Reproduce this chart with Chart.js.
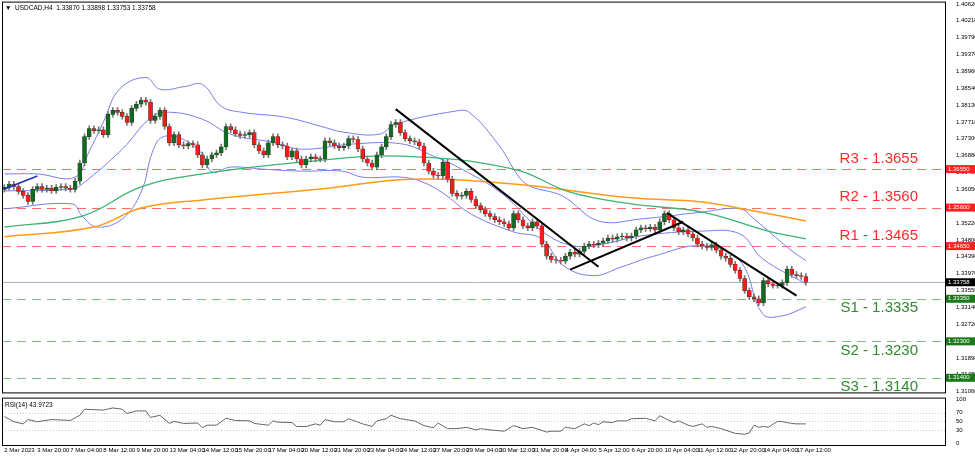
<!DOCTYPE html>
<html>
<head>
<meta charset="utf-8">
<script src="https://cdn.jsdelivr.net/npm/chart.js@4"></script>
<style>
  body { margin: 0; background: #fff; }
  #wrap { position: relative; width: 975px; height: 456px; overflow: hidden; }
  canvas { position: absolute; left: 0; }
</style>
</head>
<body>
<div id="wrap">
  <canvas id="mainChart" width="975" height="404" style="top:-5px"></canvas>
  <canvas id="rsiChart" width="975" height="65" style="top:391px"></canvas>
</div>
<script>
// H4 closes, 2 Mar 2023 .. 17 Apr 12:00
const closes = [
  1.3610,1.3618,1.3612,1.3600,1.3590,1.3575,1.3605,1.3612,1.3605,1.3608,
  1.3602,1.3610,1.3612,1.3608,1.3605,1.3625,1.3670,1.3735,1.3755,1.3750,
  1.3752,1.3740,1.3790,1.3800,1.3795,1.3785,1.3770,1.3805,1.3815,1.3825,
  1.3820,1.3775,1.3785,1.3800,1.3760,1.3720,1.3740,1.3715,1.3712,1.3718,
  1.3715,1.3690,1.3665,1.3680,1.3690,1.3695,1.3710,1.3760,1.3752,1.3742,
  1.3738,1.3740,1.3745,1.3715,1.3700,1.3690,1.3720,1.3735,1.3715,1.3712,
  1.3685,1.3700,1.3680,1.3665,1.3680,1.3685,1.3680,1.3680,1.3725,1.3720,
  1.3712,1.3708,1.3712,1.3730,1.3728,1.3705,1.3680,1.3670,1.3660,1.3690,
  1.3710,1.3735,1.3765,1.3770,1.3745,1.3730,1.3725,1.3722,1.3712,1.3670,
  1.3650,1.3640,1.3638,1.3672,1.3630,1.3595,1.3588,1.3590,1.3600,1.3580,
  1.3565,1.3555,1.3545,1.3538,1.3530,1.3525,1.3520,1.3510,1.3545,1.3530,
  1.3515,1.3510,1.3525,1.3515,1.3470,1.3440,1.3432,1.3430,1.3428,1.3440,
  1.3450,1.3445,1.3452,1.3465,1.3470,1.3468,1.3472,1.3478,1.3485,1.3482,
  1.3488,1.3490,1.3485,1.3490,1.3505,1.3510,1.3508,1.3512,1.3505,1.3525,
  1.3545,1.3530,1.3510,1.3500,1.3505,1.3495,1.3485,1.3470,1.3465,1.3462,
  1.3468,1.3455,1.3440,1.3435,1.3420,1.3405,1.3385,1.3355,1.3340,1.3335,
  1.3325,1.3380,1.3372,1.3368,1.3368,1.3375,1.3408,1.3395,1.3392,1.3390,
  1.33758
];
const firstOpen = 1.3605;

const timeLabels = ['2 Mar 2023','3 Mar 20:00','7 Mar 04:00','8 Mar 12:00','9 Mar 20:00',
  '13 Mar 04:00','14 Mar 12:00','15 Mar 20:00','17 Mar 04:00','20 Mar 12:00','21 Mar 20:00',
  '23 Mar 04:00','24 Mar 12:00','27 Mar 20:00','29 Mar 04:00','30 Mar 12:00','31 Mar 20:00',
  '4 Apr 04:00','5 Apr 12:00','6 Apr 20:00','10 Apr 04:00','11 Apr 12:00','12 Apr 20:00',
  '14 Apr 04:00','17 Apr 12:00'];

const priceTicks = [1.40620,1.40210,1.39790,1.39370,1.38960,1.38540,1.38130,1.37710,1.37300,
  1.36880,1.36460,1.36050,1.35630,1.35220,1.34800,1.34390,1.33970,1.33550,1.33140,1.32720,
  1.32300,1.31890,1.31480,1.31060];

// indicator lines, [candle index, price]
const ma100 = [[0,1.3512],[16.5,1.3539],[29,1.3611],[42,1.3643],[63,1.3672],[84,1.3687],
  [108,1.3655],[120,1.3598],[133,1.3569],[148,1.3549],[162,1.3502],[170,1.3483]];
const ma200 = [[0,1.3488],[19,1.3512],[29,1.3559],[42,1.3579],[67,1.3606],[86.5,1.3630],
  [108,1.3618],[133,1.3584],[148,1.3574],[156.5,1.3557],[170,1.3527]];
const bbUpper = [[0,1.3643],[7,1.3643],[15,1.3635],[18,1.3699],[21,1.3771],[24.4,1.3852],
  [30,1.3881],[33,1.3852],[38.4,1.3859],[42,1.3864],[46,1.3810],[50.5,1.3795],[59.6,1.3783],
  [67,1.3761],[72,1.3746],[79.5,1.3741],[83,1.3766],[95.6,1.3798],[98.6,1.3795],[105,1.3712],
  [109,1.3638],[111.4,1.3613],[118.3,1.3589],[126,1.3527],[135,1.3532],[148,1.3549],
  [156,1.3557],[159,1.3532],[166.5,1.3458],[170,1.3429]];
const bbMid = [[0,1.3601],[14.4,1.3606],[16.5,1.3618],[25,1.3704],[31.4,1.3785],[35.6,1.3795],
  [42,1.3778],[48,1.3741],[57,1.3721],[63,1.3704],[74,1.3717],[84.4,1.3717],[91,1.3687],
  [97,1.3655],[105.6,1.3594],[114,1.3502],[120.5,1.3466],[126.8,1.3470],[135,1.3490],
  [148,1.3502],[156,1.3495],[160.8,1.3434],[170,1.3372]];
const bbLower = [[0,1.3557],[14.4,1.3569],[16.5,1.3539],[19.7,1.3512],[25,1.3532],[29,1.3598],
  [31.4,1.3697],[33.5,1.3734],[37.8,1.3729],[42,1.3692],[44,1.3648],[48,1.3660],[54.7,1.3655],
  [63,1.3650],[71.7,1.3650],[76,1.3635],[84.4,1.3635],[88.7,1.3623],[93,1.3596],[99,1.3544],
  [108,1.3500],[114,1.3483],[118.3,1.3419],[124.7,1.3392],[131,1.3414],[137.4,1.3439],
  [148,1.3466],[156,1.3429],[160.8,1.3298],[165,1.3293],[170,1.3315]];

const trendLines = [
  [[0,1.3606],[7,1.3638]],
  [[83,1.3803],[126,1.3414]],
  [[120,1.3407],[144,1.3525]],
  [[140.5,1.3547],[168,1.3343]]
];

const levelNames = ['R3','R2','R1','S1','S2','S3'];
const levelValues = [1.3655,1.3560,1.3465,1.3335,1.3230,1.3140];
const lastPrice = 1.33758;

const rsiIdx = [0,2,4,5,7,10,14,16,17,21,23,25,26,28,30,31,33,35,36,38,41,42,43,45,47,49,52,53,
  56,57,58,61,62,64,66,67,68,70,72,73,76,78,79,81,82,84,87,89,91,92,94,96,98,100,101,103,106,
  108,110,112,115,116,118,119,121,123,124,125,126,127,129,130,132,133,136,138,139,141,142,143,
  145,146,148,149,150,152,155,157,158,159,160,161,162,164,165,166,167,168,170];
const rsiVal = [61,49,44,54,49,54,52,64,78,76,81,78,68,74,74,59,64,45,50,45,46,35,41,41,57,52,51,45,
  41,51,48,47,38,38,44,41,54,49,49,56,44,38,51,56,64,56,51,40,35,46,33,33,36,30,33,30,27,
  40,33,36,25,27,27,36,33,44,40,46,42,49,47,51,51,56,57,51,63,52,47,51,
  41,38,44,36,38,33,22,20,23,41,36,38,36,50,49,47,45,44,44];

const FONT = 'Liberation Sans';
const X_MIN = -0.5, X_MAX = 199.5;

// build candle datasets
const opens = closes.map((c, i) => i === 0 ? firstOpen : closes[i - 1]);
const bullBodies = [], bearBodies = [], wicks = [];
closes.forEach((c, i) => {
  const o = opens[i];
  const hi = Math.max(o, c) + 0.0007, lo = Math.min(o, c) - 0.0007;
  wicks.push({ x: i, y: [lo, hi] });
  const body = Math.abs(c - o) < 0.00015 ? [c - 0.0001, c + 0.0001] : [o, c];
  (c >= o ? bullBodies : bearBodies).push({ x: i, y: body });
});
const pts = arr => arr.map(p => ({ x: p[0], y: p[1] }));
const lineDs = (arr, color, w) => ({
  type: 'line', data: pts(arr), borderColor: color, borderWidth: w,
  pointRadius: 0, tension: 0.4, fill: false, order: 5
});

const levelColor = i => i < 3 ? '#ff6b6b' : '#7fbf7f';

const overlay = {
  id: 'overlay',
  beforeDatasetsDraw(chart) {
    const { ctx, chartArea: a, scales: { y } } = chart;
    ctx.save();
    levelValues.forEach((v, i) => {
      const py = Math.round(y.getPixelForValue(v)) + 0.5;
      ctx.strokeStyle = levelColor(i);
      ctx.lineWidth = 1.2;
      ctx.setLineDash([9, 6]);
      ctx.beginPath(); ctx.moveTo(a.left, py); ctx.lineTo(a.right, py); ctx.stroke();
    });
    ctx.setLineDash([]);
    const lp = Math.round(y.getPixelForValue(lastPrice)) + 0.5;
    ctx.strokeStyle = '#a9b0c0'; ctx.lineWidth = 1;
    ctx.beginPath(); ctx.moveTo(a.left, lp); ctx.lineTo(a.right, lp); ctx.stroke();
    ctx.restore();
  },
  afterDraw(chart) {
    const { ctx, chartArea: a, scales: { y } } = chart;
    ctx.save();
    ctx.strokeStyle = '#000'; ctx.lineWidth = 1;
    ctx.strokeRect(a.left + 0.5, a.top + 0.5, a.right - a.left, a.bottom - a.top);
    ctx.font = '15px ' + FONT;
    ctx.textAlign = 'right';
    levelValues.forEach((v, i) => {
      const py = y.getPixelForValue(v);
      ctx.fillStyle = i < 3 ? '#ff2a2a' : '#2e8b2e';
      ctx.textBaseline = i < 3 ? 'bottom' : 'top';
      ctx.fillText(levelNames[i] + ' - ' + v.toFixed(4), a.right - 27, i < 3 ? py - 3 : py + 2);
    });
    // axis tags
    ctx.font = '6px ' + FONT;
    ctx.textAlign = 'left'; ctx.textBaseline = 'middle';
    const tag = (v, bg) => {
      const py = y.getPixelForValue(v);
      ctx.fillStyle = bg; ctx.fillRect(a.right + 1, py - 4, 29, 8);
      ctx.fillStyle = '#fff'; ctx.fillText(v.toFixed(5), a.right + 3, py);
    };
    levelValues.forEach((v, i) => tag(v, i < 3 ? '#ff2020' : '#1a7a1a'));
    tag(lastPrice, '#000');
    // header
    ctx.fillStyle = '#000'; ctx.font = '6.5px ' + FONT; ctx.textBaseline = 'top';
    ctx.fillText('\u25BC  USDCAD,H4  1.33870 1.33898 1.33753 1.33758', a.left + 3, a.top + 3);
    ctx.restore();
  }
};

new Chart(document.getElementById('mainChart'), {
  type: 'bar',
  data: {
    datasets: [
      { data: wicks, backgroundColor: '#777', barThickness: 1, grouped: false, order: 3 },
      { data: bullBodies, backgroundColor: '#0f6b1f', borderColor: '#333', borderWidth: 0.5,
        borderSkipped: false, barThickness: 4, grouped: false, order: 2 },
      { data: bearBodies, backgroundColor: '#ff1a1a', borderColor: '#333', borderWidth: 0.5,
        borderSkipped: false, barThickness: 4, grouped: false, order: 2 },
      lineDs(ma100, '#3cb371', 1.3),
      lineDs(ma200, '#ff9a1a', 1.5),
      lineDs(bbUpper, '#7b7bee', 1),
      lineDs(bbMid, '#7b7bee', 1),
      lineDs(bbLower, '#7b7bee', 1),
      { ...lineDs(trendLines[0], '#1f2fbf', 1.6), tension: 0, order: 1 },
      ...trendLines.slice(1).map(t => ({ ...lineDs(t, '#000', 2), tension: 0, order: 1 }))
    ]
  },
  options: {
    responsive: false, animation: false,
    layout: { padding: { left: 2, top: -4, bottom: 0 } },
    plugins: { legend: { display: false }, tooltip: { enabled: false } },
    scales: {
      x: { type: 'linear', min: X_MIN, max: X_MAX, offset: false, display: false },
      y: {
        position: 'right', min: 1.3106 - 0.0002, max: 1.40683,
        afterFit: s => { s.width = 30; },
        afterBuildTicks: s => { s.ticks = priceTicks.map(v => ({ value: v })); },
        grid: { display: false }, border: { display: false },
        ticks: { font: { family: FONT, size: 6 }, color: '#000', padding: 3,
          callback: v => v.toFixed(5) }
      }
    }
  },
  plugins: [overlay]
});

const rsiFrame = {
  id: 'rsiFrame',
  beforeDatasetsDraw(chart) {
    const { ctx, chartArea: a, scales: { y } } = chart;
    ctx.save();
    ctx.strokeStyle = '#c8c8c8'; ctx.setLineDash([1, 2]);
    [30, 50, 70].forEach(v => {
      const py = Math.round(y.getPixelForValue(v)) + 0.5;
      ctx.beginPath(); ctx.moveTo(a.left, py); ctx.lineTo(a.right, py); ctx.stroke();
    });
    ctx.restore();
  },
  afterDraw(chart) {
    const { ctx, chartArea: a } = chart;
    ctx.save();
    ctx.strokeStyle = '#000'; ctx.lineWidth = 1;
    ctx.strokeRect(a.left + 0.5, a.top + 0.5, a.right - a.left, a.bottom - a.top);
    ctx.fillStyle = '#000'; ctx.font = '6.5px ' + FONT; ctx.textBaseline = 'top';
    ctx.fillText('RSI(14) 43.9723', a.left + 3, a.top + 4);
    ctx.restore();
  }
};

new Chart(document.getElementById('rsiChart'), {
  type: 'line',
  data: {
    datasets: [{ data: rsiIdx.map((x, i) => ({ x, y: rsiVal[i] })), borderColor: '#666',
      borderWidth: 1, pointRadius: 0, tension: 0 }]
  },
  options: {
    responsive: false, animation: false,
    layout: { padding: { left: 2, top: -1 } },
    plugins: { legend: { display: false }, tooltip: { enabled: false } },
    scales: {
      x: {
        type: 'linear', min: X_MIN, max: X_MAX, offset: false,
        afterFit: s => { s.height = 11; },
        afterBuildTicks: s => { s.ticks = timeLabels.map((t, i) => ({ value: i * 7 })); },
        grid: { display: false, drawTicks: false, tickLength: 0 }, border: { display: false },
        ticks: { autoSkip: false, maxRotation: 0, align: 'start', padding: 2,
          font: { family: FONT, size: 6 }, color: '#000',
          callback: v => timeLabels[v / 7] }
      },
      y: {
        position: 'right', min: -5, max: 105,
        afterFit: s => { s.width = 30; },
        afterBuildTicks: s => { s.ticks = [0, 30, 50, 70, 100].map(v => ({ value: v })); },
        grid: { display: false }, border: { display: false },
        ticks: { font: { family: FONT, size: 6 }, color: '#000', padding: 3 }
      }
    }
  },
  plugins: [rsiFrame]
});
</script>
</body>
</html>
